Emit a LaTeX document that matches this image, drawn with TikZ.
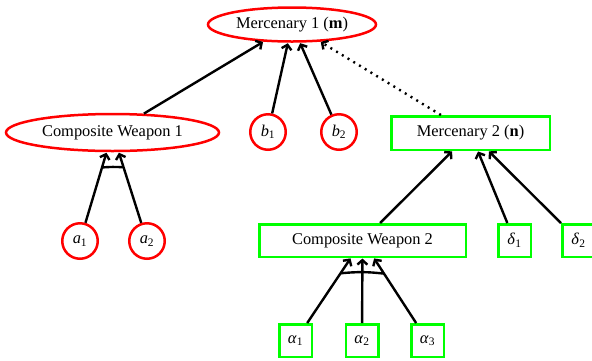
\documentclass[tikz,border=0pt]{standalone}
\usepackage{fontspec}
\setmainfont{Liberation Serif}
\usetikzlibrary{arrows.meta,calc,shapes.geometric}
\newcommand\vv[2]{\textit{#1}\textsubscript{#2}}
\definecolor{myred}{rgb}{1,0,0}
\definecolor{mygreen}{rgb}{0,1,0}
\begin{document}
\begin{tikzpicture}[x=1pt,y=1pt,
  font=\fontsize{16.4}{19}\selectfont,
  redell/.style={ellipse,draw=myred,line width=2.5pt,inner sep=0pt},
  redcirc/.style={circle,draw=myred,line width=2.5pt,inner sep=0pt,minimum size=35.5pt},
  grbox/.style={rectangle,draw=mygreen,line width=2.5pt,inner sep=0pt},
  grsq/.style={grbox,minimum width=32.5pt,minimum height=32.5pt},
  arr/.style={line width=2.4pt,-{Straight Barb[length=4.5pt,width=10pt]},shorten >=0.5pt},
  dotarr/.style={arr,dash pattern=on 2pt off 4.7pt},
  andbar/.style={line width=2.4pt}]
\useasboundingbox (0,0) rectangle (592,-360);
\node[redell,minimum width=168pt,minimum height=34pt] (m1) at (292,-24.5) {Mercenary 1 (\textbf{m})};
\node[redell,minimum width=213pt,minimum height=37pt] (cw1) at (112.5,-132.5) {Composite Weapon 1};
\node[redcirc] (b1) at (268,-132) {\vv{b}{1}};
\node[redcirc] (b2) at (339,-132) {\vv{b}{2}};
\node[grbox,minimum width=158.5pt,minimum height=33.5pt] (m2) at (470.5,-133) {Mercenary 2 (\textbf{n})};
\node[redcirc] (a1) at (80,-241) {\vv{a}{1}};
\node[redcirc] (a2) at (147,-241) {\vv{a}{2}};
\node[grbox,minimum width=206.5pt,minimum height=32.5pt] (cw2) at (362.5,-240.5) {Composite Weapon 2};
\node[grsq] (d1) at (514.5,-240.5) {\vv{δ}{1}};
\node[grsq] (d2) at (578.5,-240.5) {\vv{δ}{2}};
\node[grsq] (al1) at (295.5,-340.5) {\vv{α}{1}};
\node[grsq] (al2) at (362,-340.5) {\vv{α}{2}};
\node[grsq] (al3) at (427.5,-340.5) {\vv{α}{3}};
\draw[arr] (cw1) -- (m1);
\draw[arr] (b1) -- (m1);
\draw[arr] (b2) -- (m1);
\draw[dotarr] (m2) -- (m1);
\draw[arr] (a1) -- (cw1);
\draw[arr] (a2) -- (cw1);
\draw[arr] (cw2) -- (m2);
\draw[arr] (d1) -- (m2);
\draw[arr] (d2) -- (m2);
\draw[arr] (al1) -- (cw2);
\draw[arr] (al2) -- (cw2);
\draw[arr] (al3) -- (cw2);
\coordinate (j1) at ($(cw1.center)!36.5pt!(a1.center)$);
\coordinate (j2) at ($(cw1.center)!36.5pt!(a2.center)$);
\draw[andbar] (j1) to[bend left=4] (j2);
\coordinate (k1) at ($(cw2.center)!39.5pt!(al1.center)$);
\coordinate (k3) at ($(cw2.center)!39.5pt!(al3.center)$);
\draw[andbar] (k1) to[bend left=6] (k3);
\end{tikzpicture}
\end{document}
